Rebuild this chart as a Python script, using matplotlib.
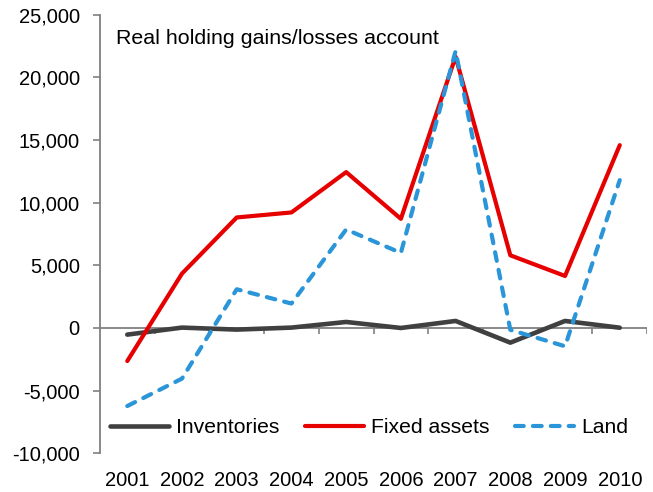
import numpy as np
import matplotlib
matplotlib.use("Agg")
import matplotlib.pyplot as plt
from matplotlib.ticker import FuncFormatter

plt.rcParams['font.family'] = ['Liberation Sans', 'DejaVu Sans']

years = ['2001', '2002', '2003', '2004', '2005', '2006', '2007', '2008', '2009', '2010']
inventories = [-530, 30, -130, 30, 480, 0, 560, -1170, 560, 20]
fixed_assets = [-2640, 4340, 8820, 9220, 12440, 8710, 21650, 5800, 4150, 14590]
land = [-6230, -4040, 3090, 1950, 7860, 5990, 22100, -150, -1460, 11800]

fig = plt.figure(figsize=(6.53, 4.92), dpi=100)
ax = fig.add_axes([0.153, 0.0787, 0.838, 0.8914])

x = np.arange(len(years))
ax.plot(x, inventories, color='#404040', lw=3.3, solid_capstyle='round',
        solid_joinstyle='round', label='Inventories', zorder=3)
ax.plot(x, fixed_assets, color='#E60000', lw=3.0, solid_capstyle='round',
        solid_joinstyle='round', label='Fixed assets', zorder=4)
ax.plot(x, land, color='#2A95D8', lw=3.0, dashes=(2.1, 2.2),
        dash_capstyle='round', dash_joinstyle='round', label='Land', zorder=5)

ax.set_xlim(-0.5, len(years) - 0.5)
ax.set_ylim(-10000, 25000)
ax.set_yticks(np.arange(-10000, 25001, 5000))
ax.yaxis.set_major_formatter(FuncFormatter(lambda v, p: f'{int(v):,}'))

# category labels sit at the bottom, the axis line itself runs through zero
ax.set_xticks(x)
ax.set_xticklabels(years)
ax.tick_params(axis='x', length=0, pad=13, labelsize=14.5)
ax.tick_params(axis='y', length=5, width=1.2, color='#808080', labelsize=14.5, pad=9.5)

for s in ['top', 'right', 'bottom']:
    ax.spines[s].set_visible(False)
ax.spines['left'].set_color('#808080')
ax.spines['left'].set_linewidth(1.3)

ax.axhline(0, color='#808080', lw=1.3, zorder=2)
ax.vlines(np.arange(0.5, len(years), 1.0), -480, 0, color='#808080', lw=1.2, zorder=2)

ax.text(0.03, 0.967, 'Real holding gains/losses account', transform=ax.transAxes,
        fontsize=15.4, va='top', ha='left')

leg = ax.legend(loc='center', bbox_to_anchor=(0.492, 0.058), ncol=3, frameon=False,
                fontsize=15.2, handlelength=2.8, handletextpad=0.35, columnspacing=1.2,
                borderpad=0, borderaxespad=0)

fig.savefig('out.png', dpi=100)
